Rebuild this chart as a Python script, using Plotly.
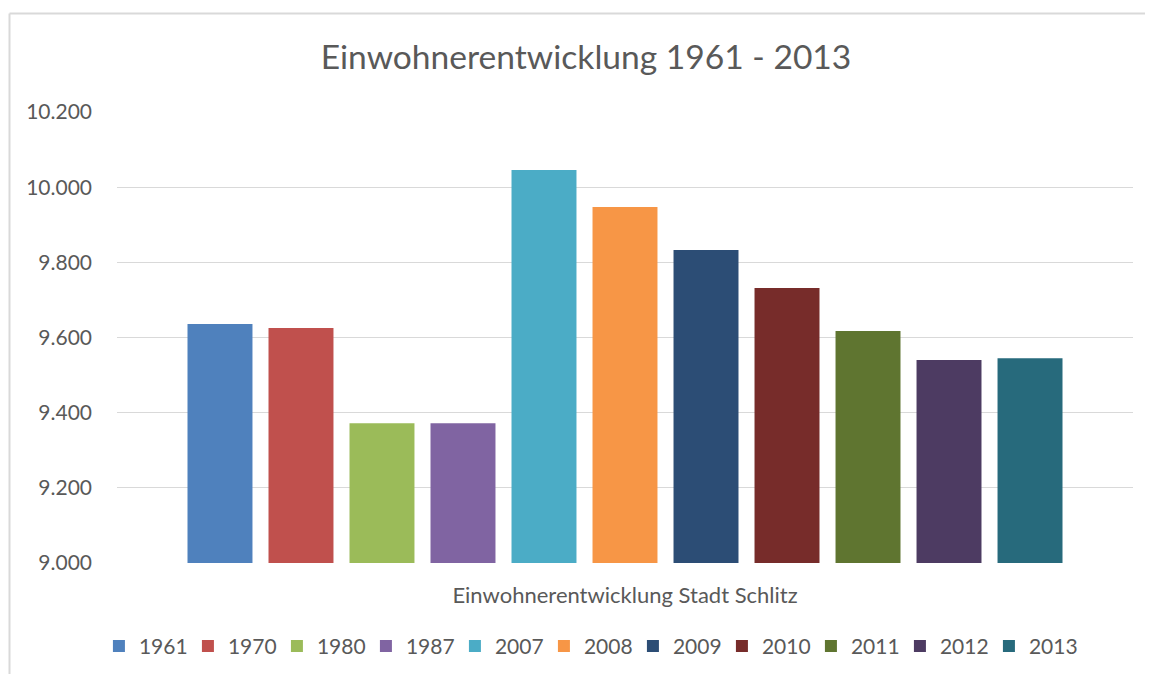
import plotly.graph_objects as go

category = "Einwohnerentwicklung Stadt Schlitz"
years = ["1961", "1970", "1980", "1987", "2007", "2008", "2009", "2010", "2011", "2012", "2013"]
population = [9636, 9625, 9372, 9372, 10046, 9947, 9833, 9732, 9617, 9540, 9545]
colors = ["#4F81BD", "#C0504D", "#9BBB59", "#8064A2", "#4BACC6", "#F79646",
          "#2C4D75", "#772C2A", "#5F7530", "#4D3B62", "#276A7C"]

y_ticks = [9000, 9200, 9400, 9600, 9800, 10000, 10200]

font_family = "Lato, 'Open Sans', sans-serif"
text_color = "#595959"

# page body has an 8px margin; figure sized to fit inside the window
W, H = 1138, 666
L, R, T, B = 109, 13, 104, 111
PW, PH = W - L - R, H - T - B

fig = go.Figure()
for yr, val, col in zip(years, population, colors):
    fig.add_trace(go.Bar(
        x=[category], y=[val], name=yr,
        marker=dict(color=col, line=dict(width=0)),
    ))

fig.update_layout(
    width=W, height=H,
    barmode="group", bargap=0.123, bargroupgap=0.198,
    separators=",.",
    paper_bgcolor="white", plot_bgcolor="white",
    margin=dict(l=L, r=R, t=T, b=B, autoexpand=False),
    font=dict(family=font_family, color=text_color, size=21),
    title=dict(text="Einwohnerentwicklung 1961 - 2013", x=578 / W, xanchor="center",
               y=1 - 49 / H, yanchor="middle",
               font=dict(size=33.6, color=text_color, family=font_family)),
    xaxis=dict(showgrid=False, showline=False, ticks="", automargin=False,
               ticklabelstandoff=17,
               tickfont=dict(size=22, color=text_color)),
    yaxis=dict(range=[9000, 10200], tickvals=y_ticks, tickformat=",.0f",
               showgrid=True, gridcolor="#D9D9D9", gridwidth=1.3, automargin=False,
               zeroline=False, showline=False, ticks="", ticklabelstandoff=24,
               tickfont=dict(size=21, color=text_color)),
    legend=dict(orientation="h", x=0.464, xanchor="center", y=-0.1394, yanchor="top",
                font=dict(size=21, color=text_color),
                entrywidth=44, entrywidthmode="pixels", itemwidth=30),
    showlegend=True,
)

# chart-area frame (top and left edges visible in the reference)
fx0 = (1.5 - L) / PW
fx1 = (W - 1 - L) / PW
fy_top = (H - B - 5.5) / PH
fy_bot = (H - B - H) / PH
fig.add_shape(type="line", xref="paper", yref="paper", x0=fx0, x1=fx1, y0=fy_top, y1=fy_top,
              line=dict(color="#D9D9D9", width=2), layer="below")
fig.add_shape(type="line", xref="paper", yref="paper", x0=fx0, x1=fx0, y0=fy_top, y1=fy_bot,
              line=dict(color="#D9D9D9", width=2), layer="below")

fig.write_html("out.html", config={"displayModeBar": False})
